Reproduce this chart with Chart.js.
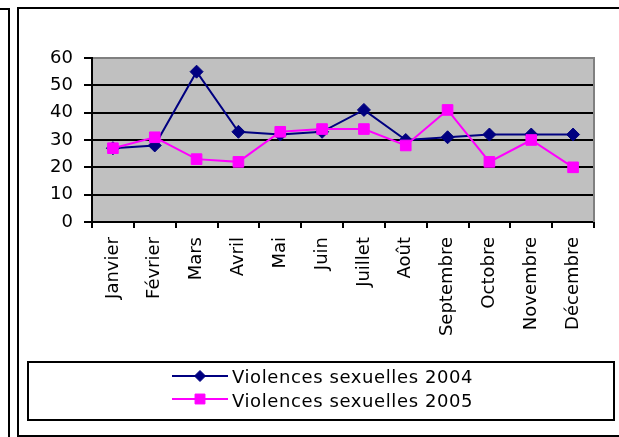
<!DOCTYPE html>
<html>
<head>
<meta charset="utf-8">
<script src="https://cdn.jsdelivr.net/npm/chart.js@4/dist/chart.umd.min.js"></script>
<style>
  html, body { margin: 0; padding: 0; background: #fff; }
  #wrap { width: 619px; height: 437px; position: relative; }
</style>
</head>
<body>
<div id="wrap"><canvas id="c" width="619" height="437"></canvas></div>
<script>
const months = ['Janvier','Février','Mars','Avril','Mai','Juin','Juillet','Août','Septembre','Octobre','Novembre','Décembre'];
const violences2004 = [27, 28, 55, 33, 32, 33, 41, 30, 31, 32, 32, 32];
const violences2005 = [27, 31, 23, 22, 33, 34, 34, 28, 41, 22, 30, 20];
const yTicks = [0, 10, 20, 30, 40, 50, 60];
const seriesNames = ['Violences sexuelles 2004', 'Violences sexuelles 2005'];

const FONT = 'DejaVu Sans';

const decor = {
  id: 'decor',
  beforeDraw(chart) {
    const { ctx, chartArea: a } = chart;
    ctx.save();
    ctx.fillStyle = '#fff';
    ctx.fillRect(0, 0, chart.width, chart.height);
    ctx.fillStyle = '#C0C0C0';
    ctx.fillRect(a.left, a.top, a.right - a.left, a.bottom - a.top);
    ctx.restore();
  },
  beforeDatasetsDraw(chart) {
    const { ctx, chartArea: a } = chart;
    ctx.save();
    ctx.strokeStyle = '#808080';
    ctx.lineWidth = 2;
    ctx.beginPath();
    ctx.moveTo(a.right, a.top - 1);
    ctx.lineTo(a.right, a.bottom);
    ctx.stroke();
    ctx.restore();
  },
  afterDraw(chart) {
    const ctx = chart.ctx;
    ctx.save();
    ctx.strokeStyle = '#000';
    ctx.lineWidth = 2;
    ctx.beginPath();
    ctx.moveTo(0, 9); ctx.lineTo(9, 9); ctx.lineTo(9, 440);
    ctx.stroke();
    ctx.strokeRect(18, 8, 640, 428);
    ctx.strokeRect(28, 362, 586, 58);
    const ds = chart.data.datasets;
    const rows = [376, 399];
    const bases = [383, 406.5];
    ctx.font = '18px "' + FONT + '"';
    try { ctx.letterSpacing = '0.6px'; } catch (e) {}
    ctx.textBaseline = 'alphabetic';
    ctx.textAlign = 'left';
    ds.forEach((d, i) => {
      const y = rows[i];
      ctx.strokeStyle = d.borderColor;
      ctx.lineWidth = 2;
      ctx.beginPath();
      ctx.moveTo(172, y); ctx.lineTo(228, y);
      ctx.stroke();
      ctx.fillStyle = d.pointBackgroundColor;
      ctx.strokeStyle = d.pointBorderColor;
      ctx.lineWidth = 1;
      Chart.helpers.drawPoint(ctx, {
        pointStyle: d.pointStyle,
        radius: i === 0 ? 5.5 : 7,
        rotation: 0,
        borderWidth: 1
      }, 200, y);
      ctx.fillStyle = '#000';
      ctx.fillText(d.label, 232, bases[i]);
    });
    ctx.restore();
  }
};

new Chart(document.getElementById('c'), {
  type: 'line',
  data: {
    labels: months,
    datasets: [
      {
        label: seriesNames[0],
        data: violences2004,
        borderColor: '#000080',
        backgroundColor: '#000080',
        pointBackgroundColor: '#000080',
        pointBorderColor: '#000080',
        borderWidth: 2,
        pointStyle: 'rectRot',
        pointRadius: 6.5,
        pointBorderWidth: 1,
        tension: 0,
        order: 1
      },
      {
        label: seriesNames[1],
        data: violences2005,
        borderColor: '#FF00FF',
        backgroundColor: '#FF00FF',
        pointBackgroundColor: '#FF00FF',
        pointBorderColor: '#FF00FF',
        borderWidth: 2,
        pointStyle: 'rect',
        pointRadius: 7.5,
        pointBorderWidth: 1,
        tension: 0,
        order: 0
      }
    ]
  },
  options: {
    responsive: false,
    animation: false,
    events: [],
    layout: { padding: { left: 0, top: 58, right: 25, bottom: 0 } },
    plugins: {
      legend: { display: false },
      tooltip: { enabled: false },
      title: { display: false }
    },
    scales: {
      x: {
        type: 'category',
        offset: true,
        grid: {
          display: true,
          drawOnChartArea: false,
          drawTicks: true,
          tickLength: 6,
          tickColor: '#000',
          tickWidth: 2,
          lineWidth: 2,
          color: '#000',
          offset: true
        },
        border: { display: true, color: '#000', width: 2 },
        ticks: {
          color: '#000',
          font: { family: FONT, size: 18 },
          minRotation: 90,
          maxRotation: 90,
          autoSkip: false,
          padding: 9
        },
        afterFit(scale) { scale.height = 215; }
      },
      y: {
        min: 0,
        max: 60,
        afterBuildTicks(scale) { scale.ticks = yTicks.map(v => ({ value: v })); },
        grid: {
          display: true,
          drawOnChartArea: true,
          drawTicks: true,
          tickLength: 8,
          tickColor: '#000',
          tickWidth: 2,
          lineWidth: 2,
          color: (c) => (c.tick && c.tick.value === 60) ? '#808080' : '#000'
        },
        border: { display: true, color: '#000', width: 2 },
        ticks: {
          color: '#000',
          font: { family: FONT, size: 18 },
          padding: 11
        },
        afterFit(scale) { scale.width = 92; }
      }
    }
  },
  plugins: [decor]
});
</script>
</body>
</html>
